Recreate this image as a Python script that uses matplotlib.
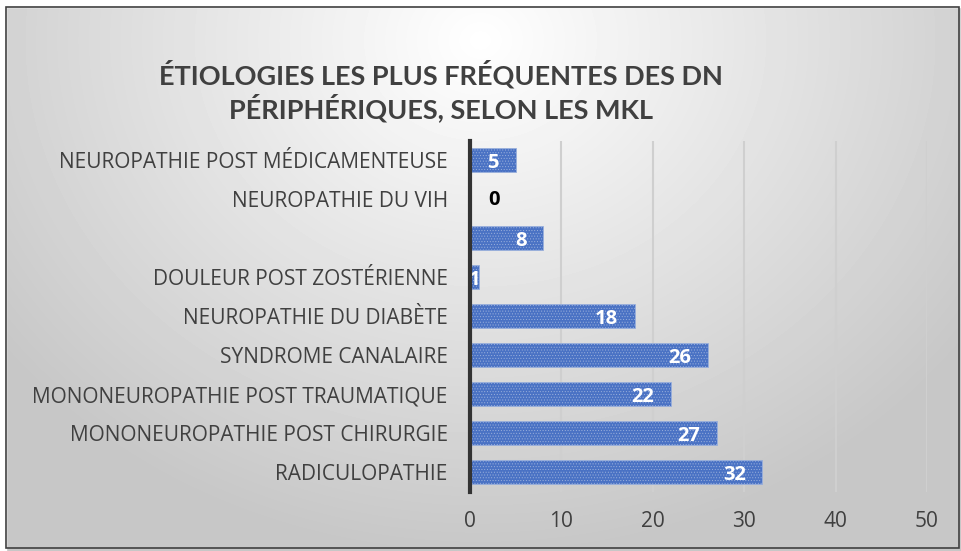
import matplotlib.pyplot as plt
import numpy as np
from matplotlib.patches import Rectangle

# données
categories = ["RADICULOPATHIE", "MONONEUROPATHIE POST CHIRURGIE",
              "MONONEUROPATHIE POST TRAUMATIQUE", "SYNDROME CANALAIRE",
              "NEUROPATHIE DU DIABÈTE", "DOULEUR POST ZOSTÉRIENNE", "",
              "NEUROPATHIE DU VIH", "NEUROPATHIE POST MÉDICAMENTEUSE"]
values = [32, 27, 22, 26, 18, 1, 8, 0, 5]
xticks = [0, 10, 20, 30, 40, 50]

plt.rcParams['font.family'] = ['Open Sans', 'DejaVu Sans']
plt.rcParams['hatch.linewidth'] = 0.4

fig = plt.figure(figsize=(9.61, 5.51), dpi=100)

# fond en dégradé radial
bg = fig.add_axes([0, 0, 1, 1], zorder=-10)
yy, xx = np.mgrid[0:551, 0:961]
r = np.sqrt(((xx - 480) / 650.0) ** 2 + ((yy - 40) / 560.0) ** 2)
shade = np.clip(1.0 - 0.24 * r, 0.78, 1.0)
bg.imshow(shade, cmap='gray', vmin=0, vmax=1, extent=[0, 961, 551, 0], aspect='auto')
bg.set_xlim(0, 961)
bg.set_ylim(551, 0)
bg.axis('off')
bg.add_patch(Rectangle((0, 0), 961, 7, color='white', zorder=2))
bg.add_patch(Rectangle((0, 0), 6, 551, color='white', zorder=2))
bg.add_patch(Rectangle((6, 7), 953, 541, fill=False, edgecolor='#404040', linewidth=1.2, zorder=3))

ax = fig.add_axes([470 / 961, 1 - 491.5 / 551, 457 / 961, 351 / 551])
ax.patch.set_alpha(0)

y = np.arange(len(categories))
ax.barh(y, values, height=0.62, color='#4a72c4', edgecolor='#9ab0dc',
        hatch='......', linewidth=0.6, zorder=3)

# étiquettes de données
for yi, v in zip(y, values):
    if v == 0:
        ax.annotate(str(v), (v, yi), xytext=(13, -1), textcoords='offset points',
                    ha='left', va='center', color='black', fontsize=14.5, fontweight='bold')
    elif v < 3:
        ax.annotate(str(v), (0, yi), xytext=(-1, -2), textcoords='offset points',
                    ha='left', va='center', color='white', fontsize=14.5, fontweight='bold')
    else:
        ax.annotate(str(v), (v, yi), xytext=(-12, -2), textcoords='offset points',
                    ha='right', va='center', color='white', fontsize=14.5, fontweight='bold')

ax.set_xlim(0, 50)
ax.set_ylim(-0.5, len(categories) - 0.5)
ax.set_xticks(xticks)
ax.set_yticks(y)
ax.set_yticklabels(categories)
ax.tick_params(axis='y', length=0, pad=16, labelsize=15, labelcolor='#404040')
ax.tick_params(axis='x', length=0, pad=14, labelsize=15, labelcolor='#404040')
ax.grid(axis='x', color='#cfcfcf', linewidth=1.5, zorder=0)
for s in ['top', 'right', 'bottom']:
    ax.spines[s].set_visible(False)
ax.spines['left'].set_color('#333333')
ax.spines['left'].set_linewidth(3)
ax.spines['left'].set_zorder(5)

fig.text(441 / 961, 1 - 91 / 551,
         "ÉTIOLOGIES LES PLUS FRÉQUENTES DES DN\nPÉRIPHÉRIQUES, SELON LES MKL",
         ha='center', va='center', fontsize=19.5, fontweight='bold', color='#404040',
         family=['Lato', 'DejaVu Sans'], linespacing=1.2)

plt.savefig("out.png", dpi=100)
